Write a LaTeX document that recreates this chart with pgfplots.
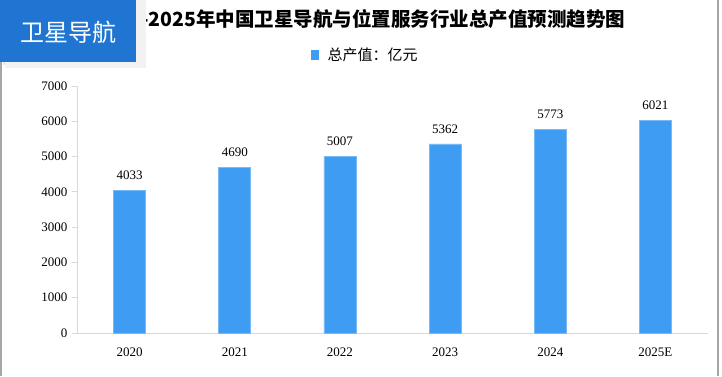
\documentclass[border=0pt]{standalone}
\usepackage{pgfplots}
\pgfplotsset{compat=1.18}
\usepackage{fontspec}
\setmainfont{Liberation Serif}
\newfontfamily\cjk{Noto Sans CJK SC}
\definecolor{barblue}{HTML}{3E9DF2}
\definecolor{badge}{HTML}{1F75D1}
\definecolor{axgray}{HTML}{D9D9D9}
\begin{document}
\begin{tikzpicture}[x=1pt,y=1pt]
\path[use as bounding box] (0,0) rectangle (722,376);
\fill[white] (0,0) rectangle (722,376);
\draw[gray!70, line width=1.2] (1,0) -- (1,376);
\draw[gray!70, line width=1.2] (718,0) -- (718,376);
\begin{axis}[
  at={(77pt,43pt)}, anchor=south west,
  scale only axis, width=631pt, height=247pt,
  ybar, bar width=0.304,
  xmin=-0.5, xmax=5.5, ymin=0, ymax=7000,
  xtick={0,1,2,3,4,5},
  xticklabels={2020,2021,2022,2023,2024,2025E},
  extra x ticks={-0.5,0.5,1.5,2.5,3.5,4.5,5.5},
  extra x tick labels={},
  extra x tick style={major tick length=6pt, tick style={axgray, line width=1pt}},
  ytick={0,1000,...,7000},
  axis x line*=bottom, axis y line*=left,
  axis line style={axgray, line width=1pt, -},
  x tick style={draw=none},
  y tick style={axgray, line width=1pt},
  tick align=outside,
  major tick length=5pt,
  tick label style={font=\fontsize{13}{13}\selectfont, text=black},
  /pgf/number format/assume math mode=true,
  scaled y ticks=false,
  yticklabel style={/pgf/number format/1000 sep={}, xshift=-1pt},
  xticklabel style={yshift=-6pt},
  nodes near coords,
  every node near coord/.append style={font=\fontsize{13}{13}\selectfont, black, yshift=7pt, /pgf/number format/1000 sep={}},
  clip=false,
]
\addplot[fill=barblue, draw=barblue!70!white, line width=0.6pt] coordinates {(0,4033) (1,4690) (2,5007) (3,5362) (4,5773) (5,6021)};
\end{axis}
% title
\node[font=\cjk\bfseries\fontsize{19.5}{19.5}\selectfont, anchor=east] at (629,357) {2020-2025年中国卫星导航与位置服务行业总产值预测趋势图};
% legend
\fill[barblue] (311,316) rectangle (319,326);
\node[font=\cjk\fontsize{15}{15}\selectfont, anchor=west] at (324,321) {总产值：亿元};
% badge
\fill[black!10] (3,311) rectangle (142,376);
\fill[black!5] (5,308) rectangle (146,376);
\fill[badge] (0,314) rectangle (136,376);
\node[font=\cjk\fontsize{24}{24}\selectfont, text=white] at (68,344) {卫星导航};
\end{tikzpicture}
\end{document}
